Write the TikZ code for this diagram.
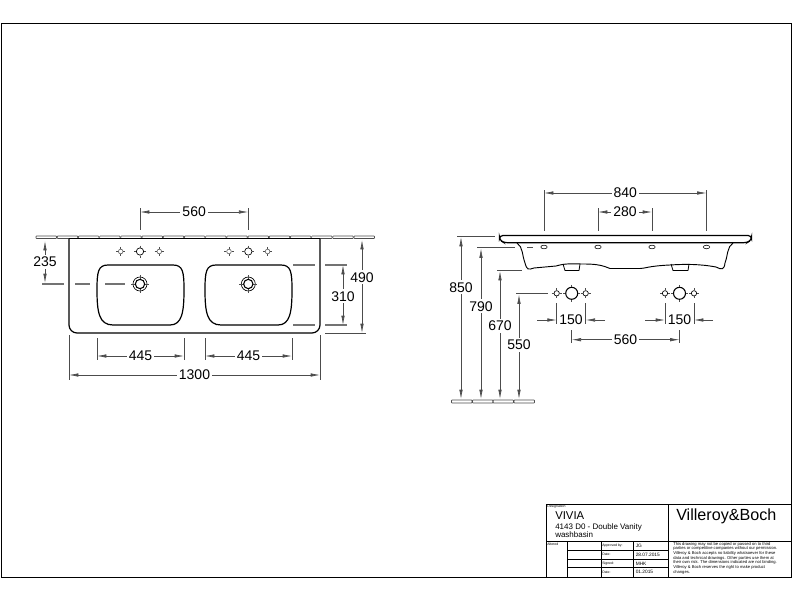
\documentclass[tikz,border=0pt]{standalone}
\usepackage{fontspec}
\setmainfont{Liberation Sans}
\usetikzlibrary{arrows.meta}
\tikzset{
  thin line/.style={draw=black!70, line width=0.5pt},
  body line/.style={draw=black, line width=0.9pt},
  dash line/.style={draw=black!55, line width=0.9pt},
  dim line/.style={thin line, {Latex[length=7pt,width=2.6pt]}-{Latex[length=7pt,width=2.6pt]}},
  dim label/.style={fill=white, font=\fontsize{10.5pt}{10.5pt}\selectfont, inner sep=1.5pt},
  tag/.style={font=\fontsize{2.6pt}{3pt}\selectfont, inner sep=0pt, anchor=west},
  value/.style={tag, font=\fontsize{3.6pt}{4pt}\selectfont},
  hole/.style={circle, draw=black, line width=0.5pt, inner sep=0pt, minimum size=#1},
}
% dimension with text on the line
\newcommand{\mydim}[5][.5]
{
\coordinate (a#5) at (#2);
\coordinate (b#5) at (#3);
\draw[dim line] (a#5) -- node[pos=#1, dim label] (#5) {#4} (b#5);
}
% tap hole group: small, large, small
\newcommand{\mytaps}[3]
{
\node[hole=3.5pt, draw=black!60] (#3l) at (#1-19.3,#2) {};
\node[hole=5.5pt] (#3m) at (#1,#2) {};
\node[hole=3.5pt, draw=black!60] (#3r) at (#1+19.3,#2) {};
\foreach \n in {l,m,r}
  \draw[thin line] (#3\n.north) ++(0,-2) -- ++(0,2) (#3\n.south) -- ++(0,2)
    (#3\n.west) ++(-2,0) -- ++(2,0) (#3\n.east) -- ++(2,0);
}
% waste outlet
\newcommand{\mywaste}[3]
{
\node[hole=10.5pt] (#3o) at (#1,#2) {};
\draw[thin line] (#1-9,#2) -- (#1+9,#2) (#1,#2-9) -- (#1,#2+9);
\node[hole=7pt, fill=white, line width=0.8pt] (#3) at (#1,#2) {};
}
\begin{document}
\begin{tikzpicture}[x=0.75pt,y=-0.75pt]
  \useasboundingbox (0,0) rectangle (800,600);
  \draw[black, line width=0.7pt] (1.5,23) rectangle (791.5,577);

  % front view
  \foreach \i in {0,...,15}
    \draw[thin line, rounded corners=0.5pt] (36+21.2*\i,236) rectangle (56.5+21.2*\i,238.5);
  \draw[body line, rounded corners=6pt] (69,238.5) -- (69,333) -- (320,333) -- (320,238.5);
  \draw[body line, line width=0.7pt] (69,238.5) -- (320,238.5);
  \draw[body line] (108,265) .. controls (98,265) and (97,272) .. (97,290)
     .. controls (97,312) and (99,325) .. (113,325) -- (170,325)
     .. controls (182,325) and (184,312) .. (184,290)
     .. controls (184,272) and (183,265) .. (173,265) -- cycle;
  \draw[body line] (216,265) .. controls (206,265) and (205,272) .. (205,290)
     .. controls (205,312) and (207,325) .. (221,325) -- (278,325)
     .. controls (290,325) and (292,312) .. (292,290)
     .. controls (292,272) and (291,265) .. (281,265) -- cycle;
  \mytaps{140}{251.5}{fa}
  \mytaps{248.3}{251.5}{fb}
  \mywaste{140}{284}{wa}
  \mywaste{248.3}{284}{wb}
  \draw[dash line] (42,284) -- (64,284) (75,284) -- (90,284) (105,284) -- (125,284);
  \draw[dash line] (293,265) -- (315,265) (325,265) -- (347,265) (293,325) -- (315,325) (325,325) -- (347,325);

  \draw[thin line] (140,208) -- (140,230) (248.3,208) -- (248.3,230);
  \mydim{140,212}{248.3,212}{560}{dtop}
  \mydim{45,241}{45,283}{235}{dleft}
  \draw[thin line] (97,338) -- (97,360) (184,338) -- (184,360) (205,338) -- (205,360) (292,338) -- (292,360);
  \mydim{97,356}{184,356}{445}{dla}
  \mydim{205,356}{292,356}{445}{dlb}
  \draw[thin line] (69,335) -- (69,380) (320,335) -- (320,380);
  \mydim{69,375}{320,375}{1300}{dwidth}
  \draw[thin line] (325,333) -- (366,333);
  \mydim[.4]{362,240}{362,333}{490}{ddepth}
  \mydim[.52]{343,265}{343,325}{310}{dbowl}

  % side view
  \draw[body line, line width=0.7pt] (517,243) .. controls (523,247) and (522,255) .. (525,263)
     .. controls (527,270) and (528,270) .. (534,268) -- (556,266) .. controls (566,263) and (572,264) .. (585,264)
     .. controls (598,264) and (604,266) .. (610,268.5) -- (640,268.5) .. controls (645,268.5) and (648,266) .. (670,265)
     .. controls (685,264) and (700,264) .. (716,267) .. controls (722,270) and (724,270) .. (725,263)
     .. controls (728,255) and (727,247) .. (733,243);
  \draw[body line, line width=0.6pt] (563,264) -- (565,270.5) -- (579,270.5) -- (580,264);
  \draw[body line, line width=0.6pt] (671,264) -- (673,270.5) -- (688,270.5) -- (689,264);
  \draw[body line, rounded corners=2.5pt, fill=white] (499.5,235.5) -- (751.5,235.5) -- (751.5,240) -- (747,242.7) -- (504,242.7) -- (499.5,240) -- cycle;
  \foreach \x in {544,598,652,706.5}
    \draw[black, line width=0.4pt] (\x,247) ellipse (3.2 and 1.8);
  \draw[thin line] (527,247) -- (533,247);

  \draw[thin line] (544,190) -- (544,231) (706.5,190) -- (706.5,231) (598,208) -- (598,231) (652,208) -- (652,231);
  \mydim{544,193}{706.5,193}{840}{dside}
  \mydim{598,212}{652,212}{280}{dholes}

  \draw[thin line] (457,236) -- (495,236) (477,247.3) -- (515,247.3) (497,270) -- (522,270) (516,293.3) -- (548,293.3);
  \foreach \x in {451.5,472.5,493,514}
    \draw[thin line, rounded corners=0.5pt] (\x,400) rectangle (\x+20.5,403);
  \mydim[.31]{461,237}{461,399}{850}{dhA}
  \mydim[.385]{481,248.5}{481,399}{790}{dhB}
  \mydim[.43]{500,271}{500,399}{670}{dhC}
  \mydim[.48]{519,294.5}{519,399}{550}{dhD}

  \node[hole=4pt] (tl) at (556.7,293.3) {};
  \node[hole=9pt, line width=0.8pt] (tm) at (571.7,293.3) {};
  \node[hole=4pt] (tr) at (585.7,293.3) {};
  \node[hole=4pt] (ul) at (665,293.3) {};
  \node[hole=9pt, line width=0.8pt] (um) at (679.5,293.3) {};
  \node[hole=4pt] (ur) at (694,293.3) {};
  \foreach \n in {tl,tm,tr,ul,um,ur}
    \draw[thin line] (\n.north) ++(0,-2) -- ++(0,2) (\n.west) ++(-2,0) -- ++(2,0) (\n.east) -- ++(2,0) (\n.south) -- ++(0,2);
  \draw[thin line] (556.7,303) -- (556.7,324) (585.7,303) -- (585.7,324) (665,303) -- (665,324) (694,303) -- (694,324);
  \draw[thin line] (571.7,330) -- (571.7,343) (679.5,330) -- (679.5,343);
  \draw[thin line, -{Latex[length=7pt,width=2.6pt]}] (537,320) -- (556.7,320);
  \draw[thin line, -{Latex[length=7pt,width=2.6pt]}] (605,320) -- (585.7,320);
  \draw[thin line, -{Latex[length=7pt,width=2.6pt]}] (645,320) -- (665,320);
  \draw[thin line, -{Latex[length=7pt,width=2.6pt]}] (713,320) -- (694,320);
  \node[dim label] (dtapa) at (571,320) {150};
  \node[dim label] (dtapb) at (679.5,320) {150};
  \mydim{571.7,339.7}{679.5,339.7}{560}{dtaps}

  % title block
  \draw[black, line width=0.6pt] (546,504) rectangle (791.5,577);
  \draw[black, line width=0.6pt] (668,504) -- (668,577) (546,541) -- (791.5,541);
  \draw[black, line width=0.4pt] (567,541) -- (567,577) (601,541) -- (601,577) (633,541) -- (633,577);
  \foreach \y in {550,559,567.5}
    \draw[black, line width=0.4pt] (567,\y) -- (668,\y);
  \node[tag] (tdes) at (547,507) {Designation};
  \node[tag, font=\fontsize{8.5pt}{9pt}\selectfont] (tname) at (555,516) {VIVIA};
  \node[tag, align=left, anchor=north west, font=\fontsize{6pt}{6pt}\selectfont] (tsub) at (555,523) {4143 D0 - Double Vanity\\washbasin};
  \node[tag] (talt) at (547,544.5) {Altered};
  \node[tag] (tapp) at (602,545.5) {Approved by:};
  \node[tag] (tdat) at (602,554.5) {Date:};
  \node[tag] (tsig) at (602,563.5) {Signed:};
  \node[tag] (tdab) at (602,572) {Date:};
  \node[value] (vapp) at (635.5,545.5) {JG};
  \node[value] (vdat) at (635.5,554.5) {28.07.2015};
  \node[value] (vsig) at (635.5,563.5) {MHK};
  \node[value] (vdab) at (635.5,572) {01.2015};
  \node[tag, font=\fontsize{12.1pt}{13pt}\selectfont] (tbrand) at (676,516) {Villeroy\&Boch};
  \node[tag, anchor=north west, align=left, font=\fontsize{3.1pt}{3.5pt}\selectfont] (tnote) at (673,542) {This drawing may not be copied or passed on to third\\parties or competitive companies without our permission.\\Villeroy \& Boch accepts no liability whatsoever for these\\data and technical drawings. Other parties use them at\\their own risk. The dimensions indicated are not binding.\\Villeroy \& Boch reserves the right to make product\\changes.};
\end{tikzpicture}
\end{document}
